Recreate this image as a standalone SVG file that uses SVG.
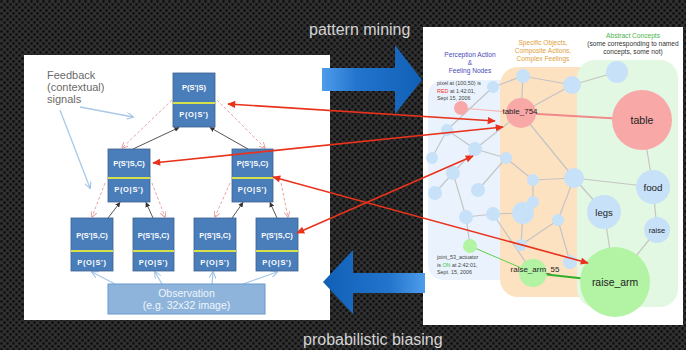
<svg xmlns="http://www.w3.org/2000/svg" width="686" height="350" viewBox="0 0 686 350">
  <defs>
    <pattern id="mesh" width="6" height="6" patternUnits="userSpaceOnUse">
      <rect width="6" height="6" fill="#303030"/>
      <circle cx="1.5" cy="1.5" r="1.4" fill="#111"/>
      <circle cx="4.5" cy="4.5" r="1.4" fill="#111"/>
    </pattern>
    <linearGradient id="gRight" x1="0" y1="0" x2="1" y2="0">
      <stop offset="0" stop-color="#4f9ceb"/>
      <stop offset="0.35" stop-color="#2274cc"/>
      <stop offset="1" stop-color="#1160b8"/>
    </linearGradient>
    <linearGradient id="gLeft" x1="0" y1="0" x2="1" y2="0">
      <stop offset="0" stop-color="#1160b8"/>
      <stop offset="0.65" stop-color="#2274cc"/>
      <stop offset="1" stop-color="#4f9ceb"/>
    </linearGradient>
    <marker id="redHead" viewBox="0 0 10 10" refX="9" refY="5" markerWidth="9" markerHeight="8" markerUnits="userSpaceOnUse" orient="auto-start-reverse">
      <path d="M0,0.5 L10,5 L0,9.5 z" fill="#e8321c"/>
    </marker>
    <marker id="grayHead" viewBox="0 0 10 10" refX="9" refY="5" markerWidth="5" markerHeight="5" markerUnits="userSpaceOnUse" orient="auto">
      <path d="M0,0 L10,5 L0,10 z" fill="#333"/>
    </marker>
    <marker id="pinkHead" viewBox="0 0 10 10" refX="9" refY="5" markerWidth="6" markerHeight="6" markerUnits="userSpaceOnUse" orient="auto">
      <path d="M0,0 L10,5 L0,10" fill="none" stroke="#e29a9a" stroke-width="1.5"/>
    </marker>
    <marker id="paleHead" viewBox="0 0 10 10" refX="9" refY="5" markerWidth="7" markerHeight="7" markerUnits="userSpaceOnUse" orient="auto">
      <path d="M0,0 L10,5 L0,10" fill="none" stroke="#9ec3e6" stroke-width="1.5"/>
    </marker>
  </defs>
  <style>
    .box { fill: #4a7ebb; stroke: #3a5f8c; stroke-width: 0.8; }
    .div { stroke: #d6e04a; stroke-width: 2; }
    .bt { font-family: "Liberation Sans", Arial, sans-serif; font-size: 7.5px; font-weight: bold; fill: #ffffff; text-anchor: middle; }
    .bt2 { letter-spacing: 0.7px; }
    .up { stroke: #555; stroke-width: 1; fill: none; marker-end: url(#grayHead); }
    .down { stroke: #e8a4a4; stroke-width: 1; stroke-dasharray: 3 2; fill: none; marker-end: url(#pinkHead); }
    .pale { stroke: #a8c9e8; stroke-width: 1.3; fill: none; marker-end: url(#paleHead); }
    .red { stroke: #e8321c; stroke-width: 1.6; fill: none; marker-start: url(#redHead); marker-end: url(#redHead); }
    .edge { stroke: #c4c4c4; stroke-width: 1.2; fill: none; }
    .nb { fill: #c6e1f8; }
    .np { fill: #f9a8a8; }
    .ng { fill: #b2f3a4; }
    .lab { font-family: "Liberation Sans", Arial, sans-serif; fill: #222; text-anchor: middle; }
    .note { font-family: "Liberation Sans", Arial, sans-serif; font-size: 5.4px; fill: #444; }
    .hd { font-family: "Liberation Sans", Arial, sans-serif; font-size: 6.6px; text-anchor: middle; }
    .cap { font-family: "Liberation Sans", Arial, sans-serif; font-size: 16px; fill: #d4d4d4; }
  </style>

  <!-- perforated metal backdrop -->
  <rect width="686" height="350" fill="url(#mesh)"/>

  <!-- left slide: hierarchical model -->
  <rect x="24" y="55" width="306" height="265" fill="#ffffff"/>
  <!-- right slide: concept graph -->
  <rect x="423" y="27" width="260" height="298" fill="#ffffff"/>

  <!-- concept graph regions -->
  <g id="region-perception">
    <rect x="428" y="80" width="110" height="200" rx="15" fill="#eaf3fd"/>
  </g>
  <g id="region-specific">
    <rect x="500" y="67" width="110" height="230" rx="18" fill="#fde2c2"/>
  </g>
  <g id="region-abstract">
    <rect x="577" y="60" width="101" height="247" rx="18" fill="#e3f8e3"/>
  </g>

  <g id="region-headings">
    <text class="hd" fill="#4a4ab8" x="470" y="57">Perception Action</text>
    <text class="hd" fill="#4a4ab8" x="470" y="65">&amp;</text>
    <text class="hd" fill="#4a4ab8" x="470" y="73">Feeling Nodes</text>
    <text class="hd" fill="#e0a040" x="543" y="45">Specific Objects,</text>
    <text class="hd" fill="#e0a040" x="543" y="53">Composite Actions,</text>
    <text class="hd" fill="#e0a040" x="543" y="61">Complex Feelings</text>
    <text class="hd" fill="#4cb44c" x="633" y="38">Abstract Concepts</text>
    <text class="hd" fill="#333" x="633" y="46">(some corresponding to named</text>
    <text class="hd" fill="#333" x="633" y="54">concepts, some not)</text>
  </g>

  <!-- graph connectors -->
  <g id="graph-edges">
    <line class="edge" x1="493" y1="87" x2="523" y2="76"/>
    <line class="edge" x1="523" y1="76" x2="572" y2="85"/>
    <line class="edge" x1="572" y1="85" x2="617" y2="72"/>
    <line class="edge" x1="523" y1="76" x2="521" y2="113"/>
    <line class="edge" x1="572" y1="85" x2="521" y2="113"/>
    <line class="edge" x1="493" y1="87" x2="447" y2="130"/>
    <line class="edge" x1="521" y1="113" x2="475" y2="149"/>
    <line class="edge" x1="521" y1="113" x2="574" y2="178"/>
    <line class="edge" x1="447" y1="130" x2="432" y2="158"/>
    <line class="edge" x1="447" y1="130" x2="475" y2="149"/>
    <line class="edge" x1="475" y1="149" x2="453" y2="173"/>
    <line class="edge" x1="475" y1="149" x2="506" y2="158"/>
    <line class="edge" x1="453" y1="173" x2="435" y2="193"/>
    <line class="edge" x1="453" y1="173" x2="466" y2="217"/>
    <line class="edge" x1="506" y1="158" x2="478" y2="190"/>
    <line class="edge" x1="506" y1="158" x2="533" y2="180"/>
    <line class="edge" x1="533" y1="180" x2="574" y2="178"/>
    <line class="edge" x1="533" y1="180" x2="533" y2="202"/>
    <line class="edge" x1="533" y1="202" x2="523" y2="213"/>
    <line class="edge" x1="523" y1="213" x2="493" y2="214"/>
    <line class="edge" x1="523" y1="213" x2="521" y2="245"/>
    <line class="edge" x1="521" y1="245" x2="558" y2="220"/>
    <line class="edge" x1="558" y1="220" x2="574" y2="178"/>
    <line class="edge" x1="558" y1="220" x2="570" y2="262"/>
    <line class="edge" x1="466" y1="217" x2="493" y2="214"/>
    <line class="edge" x1="466" y1="217" x2="470" y2="246"/>
    <line class="edge" x1="493" y1="214" x2="533" y2="273"/>
    <line class="edge" x1="574" y1="178" x2="604" y2="212"/>
    <line class="edge" x1="574" y1="178" x2="653" y2="187"/>
    <line class="edge" x1="642" y1="120" x2="653" y2="187"/>
    <line class="edge" x1="653" y1="187" x2="657" y2="230"/>
    <line class="edge" x1="657" y1="230" x2="615" y2="282"/>
    <line class="edge" x1="604" y1="212" x2="615" y2="282"/>
    <line x1="461" y1="108" x2="521" y2="113" stroke="#f7b4b4" stroke-width="1.2"/>
    <line x1="521" y1="113" x2="642" y2="120" stroke="#f08a8a" stroke-width="2"/>
    <line x1="470" y1="246" x2="533" y2="273" stroke="#5ccf4c" stroke-width="1"/>
    <line x1="533" y1="273" x2="615" y2="282" stroke="#2fae2a" stroke-width="1.8"/>
  </g>

  <!-- graph nodes -->
  <g id="graph-nodes">
    <circle class="nb" cx="493" cy="87" r="6"/>
    <circle class="nb" cx="523" cy="76" r="7"/>
    <circle class="nb" cx="572" cy="85" r="9"/>
    <circle class="nb" cx="617" cy="72" r="11"/>
    <circle class="nb" cx="447" cy="130" r="6"/>
    <circle class="nb" cx="475" cy="149" r="7"/>
    <circle class="nb" cx="432" cy="158" r="6"/>
    <circle class="nb" cx="453" cy="173" r="7"/>
    <circle class="nb" cx="506" cy="158" r="6"/>
    <circle class="nb" cx="435" cy="193" r="7"/>
    <circle class="nb" cx="478" cy="190" r="7"/>
    <circle class="nb" cx="533" cy="180" r="6"/>
    <circle class="nb" cx="574" cy="178" r="10"/>
    <circle class="nb" cx="533" cy="202" r="6"/>
    <circle class="nb" cx="523" cy="213" r="11"/>
    <circle class="nb" cx="558" cy="220" r="6"/>
    <circle class="nb" cx="466" cy="217" r="7"/>
    <circle class="nb" cx="493" cy="214" r="7"/>
    <circle class="nb" cx="521" cy="245" r="6"/>
    <circle class="nb" cx="570" cy="262" r="7"/>
    <circle class="np" cx="461" cy="108" r="7"/>
    <circle class="ng" cx="470" cy="246" r="7"/>
  </g>
  <g id="node-table_754">
    <circle class="np" cx="521" cy="113" r="15"/>
    <text class="lab" x="520" y="114" font-size="8">table_754</text>
  </g>
  <g id="node-table">
    <circle class="np" cx="642" cy="120" r="30"/>
    <text class="lab" x="642" y="124" font-size="10.5">table</text>
  </g>
  <g id="node-legs">
    <circle class="nb" cx="604" cy="212" r="17"/>
    <text class="lab" x="604" y="215.5" font-size="9.5">legs</text>
  </g>
  <g id="node-food">
    <circle class="nb" cx="653" cy="187" r="17"/>
    <text class="lab" x="653" y="190.5" font-size="9.8">food</text>
  </g>
  <g id="node-raise">
    <circle class="nb" cx="657" cy="230" r="13"/>
    <text class="lab" x="657" y="232.5" font-size="7.5">raise</text>
  </g>
  <g id="node-raise_arm_55">
    <circle class="ng" cx="533" cy="273" r="14"/>
    <text class="lab" x="535" y="272" font-size="8">raise_arm_55</text>
  </g>
  <g id="node-raise_arm">
    <circle class="ng" cx="615" cy="282" r="35"/>
    <text class="lab" x="615" y="286" font-size="10.4">raise_arm</text>
  </g>
  <g id="graph-notes">
    <text class="note" x="437" y="85">pixel at (100,50) is</text>
    <text class="note" x="437" y="92.5"><tspan fill="#f03030">RED</tspan> at 1:42:01,</text>
    <text class="note" x="437" y="100">Sept 15, 2006</text>
    <text class="note" x="437" y="259">joint_53_actuator</text>
    <text class="note" x="437" y="266.5">is <tspan fill="#3cc83c">ON</tspan> at 2:42:01,</text>
    <text class="note" x="437" y="274">Sept. 15, 2006</text>
  </g>

  <!-- hierarchy: inner connectors -->
  <g id="hierarchy-connectors">
    <line class="up" x1="133" y1="149" x2="179" y2="127.5"/>
    <line class="up" x1="248" y1="149" x2="210" y2="127.5"/>
    <line class="up" x1="108" y1="218" x2="120" y2="202.5"/>
    <line class="up" x1="153" y1="218" x2="146" y2="202.5"/>
    <line class="up" x1="232" y1="218" x2="243" y2="202.5"/>
    <line class="up" x1="277" y1="218" x2="270" y2="202.5"/>
    <line class="down" x1="172" y1="100" x2="122" y2="148"/>
    <line class="down" x1="217" y1="100" x2="265" y2="148"/>
    <line class="down" x1="105" y1="183" x2="92" y2="217"/>
    <line class="down" x1="152" y1="183" x2="165" y2="217"/>
    <line class="down" x1="230" y1="183" x2="215" y2="217"/>
    <line class="down" x1="281" y1="183" x2="288" y2="217"/>
    <line class="pale" x1="80" y1="107" x2="133" y2="117"/>
    <line class="pale" x1="60" y1="110" x2="90" y2="188"/>
    <line class="pale" x1="115" y1="284" x2="92" y2="272"/>
    <line class="pale" x1="162" y1="284" x2="155" y2="272"/>
    <line class="pale" x1="212" y1="284" x2="213" y2="272"/>
    <line class="pale" x1="243" y1="284" x2="277" y2="272"/>
  </g>

  <g id="feedback-label">
    <text font-family="Liberation Sans, Arial, sans-serif" font-size="11" fill="#6a6a6a" x="47" y="79">Feedback</text>
    <text font-family="Liberation Sans, Arial, sans-serif" font-size="11" fill="#6a6a6a" x="47" y="91">(contextual)</text>
    <text font-family="Liberation Sans, Arial, sans-serif" font-size="11" fill="#6a6a6a" x="47" y="103">signals</text>
  </g>

  <!-- hierarchy boxes -->
  <g id="box-top">
    <rect class="box" x="173" y="73" width="42" height="54"/>
    <line class="div" x1="173" y1="103" x2="215" y2="103"/>
    <text class="bt" x="194" y="90">P(S'|S)</text>
    <text class="bt bt2" x="194" y="117">P(O|S')</text>
  </g>
  <g id="box-mid-left">
    <rect class="box" x="108" y="149" width="42" height="53"/>
    <line class="div" x1="108" y1="178" x2="150" y2="178"/>
    <text class="bt" x="129" y="165.5">P(S'|S,C)</text>
    <text class="bt bt2" x="129" y="192">P(O|S')</text>
  </g>
  <g id="box-mid-right">
    <rect class="box" x="232" y="149" width="41" height="53"/>
    <line class="div" x1="232" y1="178" x2="273" y2="178"/>
    <text class="bt" x="252.5" y="165.5">P(S'|S,C)</text>
    <text class="bt bt2" x="252.5" y="192">P(O|S')</text>
  </g>
  <g id="box-leaf-1">
    <rect class="box" x="71" y="218" width="42" height="53"/>
    <line class="div" x1="71" y1="251" x2="113" y2="251"/>
    <text class="bt" x="92" y="237.5">P(S'|S,C)</text>
    <text class="bt bt2" x="92" y="264.5">P(O|S')</text>
  </g>
  <g id="box-leaf-2">
    <rect class="box" x="133" y="218" width="41" height="53"/>
    <line class="div" x1="133" y1="251" x2="174" y2="251"/>
    <text class="bt" x="153.5" y="237.5">P(S'|S,C)</text>
    <text class="bt bt2" x="153.5" y="264.5">P(O|S')</text>
  </g>
  <g id="box-leaf-3">
    <rect class="box" x="194" y="218" width="42" height="53"/>
    <line class="div" x1="194" y1="251" x2="236" y2="251"/>
    <text class="bt" x="215" y="237.5">P(S'|S,C)</text>
    <text class="bt bt2" x="215" y="264.5">P(O|S')</text>
  </g>
  <g id="box-leaf-4">
    <rect class="box" x="256" y="218" width="42" height="53"/>
    <line class="div" x1="256" y1="251" x2="298" y2="251"/>
    <text class="bt" x="277" y="237.5">P(S'|S,C)</text>
    <text class="bt bt2" x="277" y="264.5">P(O|S')</text>
  </g>
  <g id="box-observation">
    <rect x="108" y="284" width="157" height="30" fill="#8fb4dc" stroke="#6b98cc" stroke-width="1"/>
    <text font-family="Liberation Sans, Arial, sans-serif" font-size="10.5" fill="#eef4fb" text-anchor="middle" x="186.5" y="297">Observation</text>
    <text font-family="Liberation Sans, Arial, sans-serif" font-size="10.5" fill="#eef4fb" text-anchor="middle" x="186.5" y="309">(e.g. 32x32 image)</text>
  </g>

  <!-- big process arrows -->
  <g id="arrow-pattern-mining">
    <path d="M322,68 H395 V45 L422,80 L395,114 V91 H322 Z" fill="url(#gRight)"/>
    <text class="cap" x="309" y="35">pattern mining</text>
  </g>
  <g id="arrow-probabilistic-biasing">
    <path d="M425,273 H353 V250 L323,282 L353,314 V293 H425 Z" fill="url(#gLeft)"/>
    <text class="cap" x="303" y="345">probabilistic biasing</text>
  </g>

  <!-- links between model levels and graph nodes -->
  <g id="cross-links">
    <line class="red" x1="228" y1="104" x2="495" y2="121"/>
    <line class="red" x1="153" y1="163" x2="503" y2="127"/>
    <line class="red" x1="273" y1="177" x2="588" y2="263"/>
    <line class="red" x1="297" y1="233" x2="473" y2="156"/>
  </g>
</svg>
